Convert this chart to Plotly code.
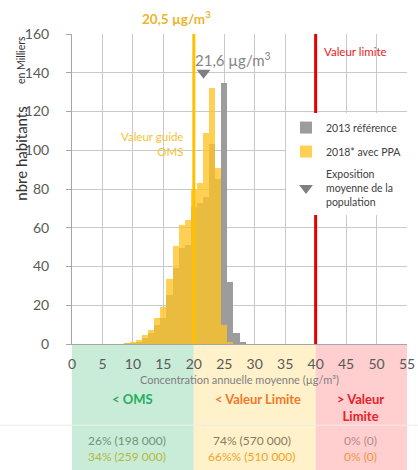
import plotly.graph_objects as go

# ---- data (thousands of inhabitants per 1 µg/m3 bin) ----
bins = [8, 9, 10, 11, 12, 13, 14, 15, 16, 17, 18, 19, 20, 21, 22, 23, 24, 25, 26, 27, 28]
pop_2013 = [0, 0.2, 0.3, 1.0, 3.0, 5.5, 9.8, 13.3, 25.3, 39, 49.5, 51, 70.5, 73, 76, 103, 85, 134.5, 32, 5.5, 1.0]
pop_2018 = [0, 0.3, 0.8, 2.0, 4.6, 7.2, 13.3, 19.0, 33.5, 50.5, 61.5, 64, 80, 83, 109, 132, 91, 10, 1.2, 0, 0]

mean_2018 = 20.5
mean_2013 = 21.6
marker_y_2018 = 161.5
marker_y_2013 = 140
guide_oms = 20
valeur_limite = 40

x_ticks = [0, 5, 10, 15, 20, 25, 30, 35, 40, 45, 50, 55]
y_ticks = [0, 20, 40, 60, 80, 100, 120, 140, 160]

band_edges = [0, 20, 40, 55]
band_colors = ["#c8ecd8", "#fff1c9", "#ffcece"]
band_titles = ["<b>&lt; OMS</b>", "<b>&lt; Valeur Limite</b>", "<b>&gt; Valeur<br>Limite</b>"]
band_title_colors = ["#26ad60", "#f07a2a", "#e8202a"]
row_2013 = ["26% (198 000)", "74% (570 000)", "0% (0)"]
row_2018 = ["34% (259 000)", "66%% (510 000)", "0% (0)"]
row_2013_colors = ["#6f9475", "#857c5e", "#b28c8c"]
row_2018_colors = ["#b3b83c", "#f0a428", "#f5963c"]

FONT = "Lato"

fig = go.Figure()

fig.add_trace(go.Bar(
    x=bins, y=pop_2013, width=1, name="2013 référence",
    marker=dict(color="#9c9c9c", line=dict(width=0)),
    legendgroup="a",
))
fig.add_trace(go.Bar(
    x=bins, y=pop_2018, width=1, name="2018* avec PPA",
    marker=dict(color="#ffc425", line=dict(width=0)), opacity=0.78,
    legendgroup="b",
))
fig.add_trace(go.Scatter(
    x=[mean_2013], y=[marker_y_2013], mode="markers",
    name="Exposition<br>moyenne de la<br>population",
    marker=dict(symbol="triangle-down", size=12, color="#7f7f7f"),
    cliponaxis=False, legendgroup="c",
))
fig.add_trace(go.Scatter(
    x=[mean_2018], y=[marker_y_2018], mode="markers", showlegend=False,
    marker=dict(symbol="triangle-down", size=12, color="#e8b420"),
    cliponaxis=False,
))

shapes = []
# coloured bands under the plot
for i in range(3):
    shapes.append(dict(type="rect", xref="x", yref="paper",
                       x0=band_edges[i], x1=band_edges[i + 1], y0=-0.41, y1=0,
                       fillcolor=band_colors[i], line=dict(width=0), layer="below"))
# faint separator line
shapes.append(dict(type="line", xref="paper", yref="paper", x0=-0.22, x1=1.04,
                   y0=-0.262, y1=-0.262, line=dict(color="#ececec", width=1), layer="above"))
# guide and limit lines
shapes.append(dict(type="line", xref="x", yref="y", x0=guide_oms, x1=guide_oms, y0=0, y1=160,
                   line=dict(color="#ffc000", width=3), layer="above"))
shapes.append(dict(type="line", xref="x", yref="y", x0=valeur_limite, x1=valeur_limite, y0=0, y1=160,
                   line=dict(color="#e40000", width=3), layer="above"))

annotations = []
# band texts
centers_title = [10.0, 30.5, 47.4]
centers_row = [9, 29.5, 47.4]
for i in range(3):
    annotations.append(dict(x=centers_title[i], y=-0.145, xref="x", yref="paper", yanchor="top",
                            text=band_titles[i], showarrow=False,
                            font=dict(family=FONT, size=13, color=band_title_colors[i])))
    annotations.append(dict(x=centers_row[i], y=-0.312, xref="x", yref="paper", yanchor="middle",
                            text=row_2013[i], showarrow=False,
                            font=dict(family=FONT, size=12, color=row_2013_colors[i])))
    annotations.append(dict(x=centers_row[i], y=-0.364, xref="x", yref="paper", yanchor="middle",
                            text=row_2018[i], showarrow=False,
                            font=dict(family=FONT, size=12, color=row_2018_colors[i])))

# axis titles
annotations.append(dict(x=0.5, y=-0.116, xref="paper", yref="paper", yanchor="middle",
                        text="Concentration annuelle moyenne (µg/m³)", showarrow=False,
                        font=dict(family=FONT, size=11, color="#7f7f7f")))
annotations.append(dict(x=-0.152, y=0.614, xref="paper", yref="paper", textangle=-90,
                        text="nbre habitants", showarrow=False, xanchor="center", yanchor="middle",
                        font=dict(family=FONT, size=15, color="#333333")))
annotations.append(dict(x=-0.152, y=0.916, xref="paper", yref="paper", textangle=-90,
                        text="en Milliers", showarrow=False, xanchor="center", yanchor="middle",
                        font=dict(family=FONT, size=10.5, color="#333333")))

# value labels
annotations.append(dict(x=mean_2018 - 3.3, y=1.053, xref="x", yref="paper", yanchor="middle",
                        text="<b>20,5 µg/m<sup>3</sup></b>", showarrow=False,
                        font=dict(family=FONT, size=13.5, color="#ebb52a")))
annotations.append(dict(x=mean_2013 + 4.9, y=147, xref="x", yref="y", yanchor="middle",
                        text="21,6 µg/m<sup>3</sup>", showarrow=False,
                        font=dict(family=FONT, size=15, color="#858585")))
annotations.append(dict(x=41.0, y=151, xref="x", yref="y", xanchor="left", yanchor="middle",
                        text="Valeur limite", showarrow=False,
                        font=dict(family=FONT, size=11.5, color="#e81c1c")))
annotations.append(dict(x=18.6, y=103, xref="x", yref="y", xanchor="right", yanchor="middle",
                        text="Valeur guide<br>OMS", showarrow=False, align="right",
                        font=dict(family=FONT, size=11.5, color="#f5bf32")))

fig.update_layout(
    width=418, height=470,
    margin=dict(l=72, r=11, t=34, b=126, autoexpand=False),
    paper_bgcolor="white", plot_bgcolor="white",
    barmode="overlay", bargap=0,
    font=dict(family=FONT, color="#595959"),
    shapes=shapes, annotations=annotations,
    legend=dict(x=1.0, xanchor="right", y=0.745, yanchor="top", bgcolor="white",
                font=dict(family=FONT, size=10.5, color="#404040"),
                traceorder="grouped", tracegroupgap=5, itemwidth=30),
    xaxis=dict(range=[0, 55], tickvals=x_ticks, ticktext=[str(v) for v in x_ticks],
               showgrid=True, gridcolor="#c9c9c9", gridwidth=1,
               showline=True, linecolor="#a6a6a6", linewidth=1, zeroline=False,
               ticks="", tickfont=dict(family=FONT, size=14, color="#595959"),
               ticklabelstandoff=7, fixedrange=True),
    yaxis=dict(range=[0, 160], tickvals=y_ticks, ticktext=[str(v) for v in y_ticks],
               showgrid=True, gridcolor="#c9c9c9", gridwidth=1,
               showline=True, linecolor="#a6a6a6", linewidth=1, zeroline=False,
               ticks="outside", ticklen=5, tickcolor="#a6a6a6",
               tickfont=dict(family=FONT, size=14, color="#595959"),
               ticklabelstandoff=14, fixedrange=True),
)

fig.write_html("out.html", config={"displayModeBar": False},
               post_script="document.body.style.margin='0';document.body.style.padding='0';")
